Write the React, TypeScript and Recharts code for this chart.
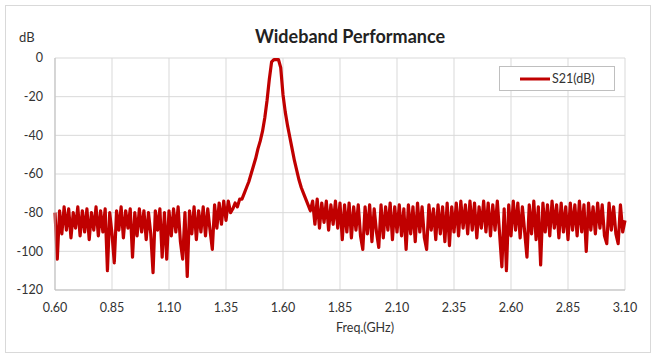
import { CartesianGrid, Line, LineChart, XAxis, YAxis } from "recharts";

// S21 in dB, one value every 10 MHz
const START_MHZ = 600;
const STEP_MHZ = 10;

// 0.60 - 1.37 GHz, lower stopband
const lowBandDb = [
  -80, -104, -79, -91, -77, -89, -78, -93, -80, -88,
  -77, -92, -79, -90, -78, -94, -80, -89, -77, -92,
  -79, -90, -78, -110, -80, -91, -106, -79, -89, -77,
  -93, -79, -88, -78, -103, -80, -92, -78, -90, -79,
  -94, -80, -91, -111, -79, -89, -78, -103, -80, -104,
  -79, -92, -78, -90, -77, -95, -104, -80, -113, -79,
  -91, -77, -94, -79, -90, -77, -92, -78, -89, -99,
  -76, -88, -75, -86, -74, -84, -74, -80,
];

// 1.38 - 1.71 GHz, passband
const passbandDb = [
  -78, -75, -77, -73, -73, -70, -67, -64, -60, -56,
  -52, -47, -43, -38, -31, -22, -11, -2, -0.8, -0.8,
  -0.8, -5, -19, -28, -35, -41, -47, -53, -58, -63,
  -67, -70, -73, -76,
];

// 1.72 - 3.10 GHz, upper stopband
const highBandDb = [
  -79, -74, -86, -73, -88, -75, -85, -74, -89, -76,
  -86, -74, -88, -75, -94, -76, -90, -75, -93, -77,
  -89, -76, -92, -99, -77, -91, -76, -95, -78, -90,
  -98, -76, -93, -77, -89, -75, -94, -77, -90, -76,
  -92, -78, -99, -76, -91, -77, -95, -75, -90, -77,
  -93, -99, -76, -89, -78, -94, -76, -91, -77, -95,
  -75, -97, -77, -90, -75, -92, -74, -88, -76, -91,
  -74, -89, -75, -93, -77, -88, -74, -90, -75, -92,
  -76, -89, -74, -91, -108, -78, -110, -76, -92, -74,
  -89, -75, -93, -77, -90, -103, -76, -91, -74, -94,
  -77, -107, -75, -90, -76, -92, -74, -88, -76, -93,
  -75, -90, -77, -94, -75, -89, -76, -92, -74, -90,
  -76, -100, -75, -89, -77, -91, -75, -88, -76, -92,
  -96, -75, -89, -77, -91, -96, -76, -90, -84,
];

const xTicks = [0.6, 0.85, 1.1, 1.35, 1.6, 1.85, 2.1, 2.35, 2.6, 2.85, 3.1];
const yTicks = [-120, -100, -80, -60, -40, -20, 0];

const s21 = [...lowBandDb, ...passbandDb, ...highBandDb];
const data = s21.map((db, i) => ({
  freq: (START_MHZ + i * STEP_MHZ) / 1000,
  db,
}));

const FONT = "Lato, 'Liberation Sans', sans-serif";
const RED = "#c00000";

function LegendBox() {
  return (
    <div
      style={{
        position: "absolute",
        left: 499,
        top: 66,
        width: 116,
        height: 25,
        border: "1px solid #bfbfbf",
        background: "#fff",
        display: "flex",
        alignItems: "center",
        fontSize: 12.5,
        color: "#333",
        boxSizing: "border-box",
      }}
    >
      <svg width={52} height={10}>
        <line x1={20} x2={50} y1={5} y2={5} stroke={RED} strokeWidth={3} />
      </svg>
      <span>S21(dB)</span>
    </div>
  );
}

export default function App() {
  return (
    <div
      style={{
        position: "absolute",
        left: 0,
        top: 0,
        width: 656,
        height: 359,
        background: "#fff",
        fontFamily: FONT,
      }}
    >
      <div
        style={{
          position: "absolute",
          left: 5,
          top: 5,
          width: 644,
          height: 346,
          border: "1px solid #d9d9d9",
        }}
      />
      <div
        style={{
          position: "absolute",
          left: 0,
          width: 700,
          top: 25,
          textAlign: "center",
          fontSize: 18,
          fontWeight: 700,
          color: "#222",
        }}
      >
        Wideband Performance
      </div>
      <div style={{ position: "absolute", left: 19, top: 29, fontSize: 13, color: "#333" }}>dB</div>
      <div style={{ position: "absolute", left: 0, width: 730, top: 320, textAlign: "center", fontSize: 12.5, color: "#333" }}>
        Freq.(GHz)
      </div>
      <LineChart
        width={656}
        height={359}
        data={data}
        margin={{ top: 58, right: 31, bottom: 39, left: 8 }}
        style={{ position: "absolute", left: 0, top: 0 }}
      >
        <CartesianGrid stroke="#d9d9d9" strokeWidth={1} />
        <XAxis
          dataKey="freq"
          type="number"
          domain={[0.6, 3.1]}
          ticks={xTicks}
          tickFormatter={(v: number) => v.toFixed(2)}
          tick={{ fill: "#333", fontSize: 12.5, fontFamily: FONT }}
          axisLine={{ stroke: "#bfbfbf" }}
          tickLine={false}
          tickMargin={7}
          height={30}
          interval={0}
        />
        <YAxis
          type="number"
          domain={[-120, 0]}
          ticks={yTicks}
          tick={{ fill: "#333", fontSize: 12.5, fontFamily: FONT }}
          axisLine={{ stroke: "#bfbfbf" }}
          tickLine={false}
          tickMargin={6}
          width={47}
          interval={0}
        />
        <Line
          type="linear"
          dataKey="db"
          stroke={RED}
          strokeWidth={3.2}
          strokeLinejoin="round"
          dot={false}
          isAnimationActive={false}
        />
      </LineChart>
      <LegendBox />
    </div>
  );
}
